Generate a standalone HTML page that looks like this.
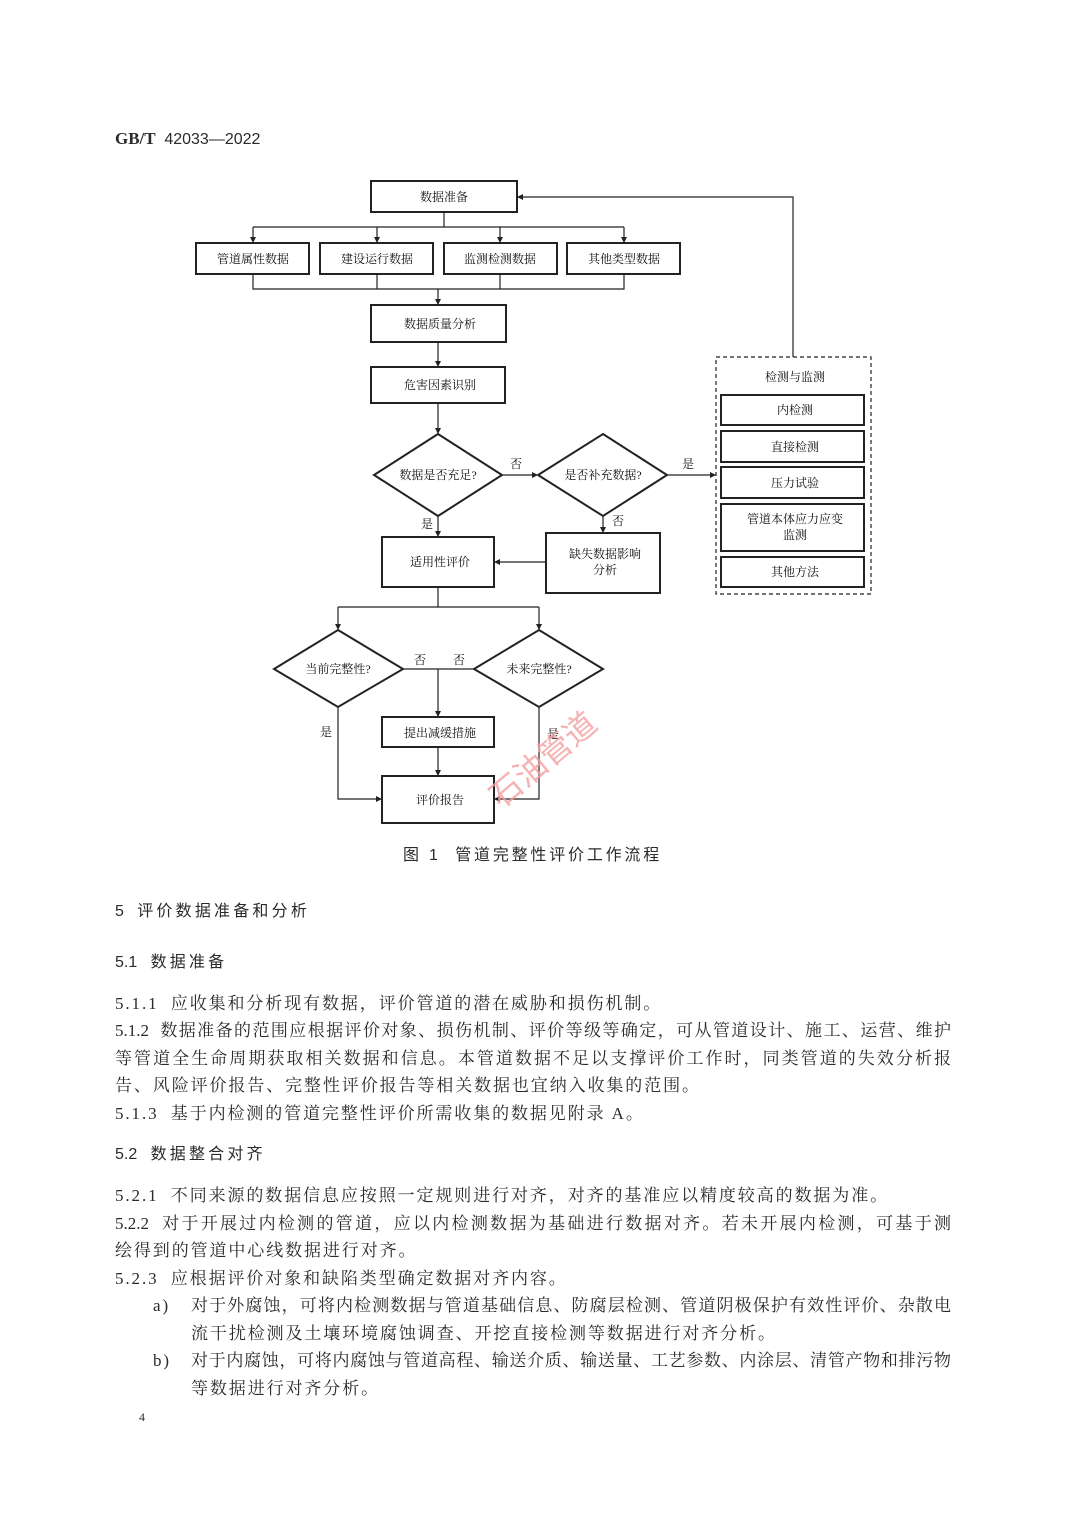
<!DOCTYPE html>
<html><head><meta charset="utf-8"><style>
body{margin:0;background:#fff;}
#p{position:relative;width:1080px;height:1525px;overflow:hidden;font-family:"Liberation Serif","Noto Serif CJK SC",serif;color:#2a2a2a;}
.t{position:absolute;font-size:17px;line-height:20px;white-space:nowrap;letter-spacing:1.9px;}
.j{position:absolute;left:115px;width:836px;font-size:17px;line-height:20px;text-align:justify;text-align-last:justify;white-space:nowrap;}
.h{position:absolute;font-family:"Liberation Sans","Noto Sans CJK SC",sans-serif;font-size:16px;line-height:20px;letter-spacing:3.2px;}
.h i{font-style:normal;letter-spacing:0;}
svg text{font-family:"Liberation Serif","Noto Serif CJK SC",serif;font-size:12px;fill:#111;}
</style></head><body><div id="p">
<div style="position:absolute;left:115px;top:129px;font-size:17px;line-height:20px"><b>GB/T</b>&nbsp;<span style="font-family:'Liberation Sans',sans-serif;font-size:16px"> 42033—2022</span></div>
<svg width="1080" height="840" style="position:absolute;left:0;top:0">
<defs><marker id="a" markerWidth="6" markerHeight="6" refX="5" refY="3" orient="auto" markerUnits="userSpaceOnUse"><path d="M0,0L6,3L0,6z" fill="#222"/></marker></defs>
<g fill="none" stroke="#222" stroke-width="1.2">
<rect x="371" y="181" width="146" height="31" stroke-width="2"/>
<rect x="196" y="243" width="113" height="31" stroke-width="2"/>
<rect x="320" y="243" width="113" height="31" stroke-width="2"/>
<rect x="444" y="243" width="113" height="31" stroke-width="2"/>
<rect x="567" y="243" width="113" height="31" stroke-width="2"/>
<rect x="371" y="305" width="135" height="37" stroke-width="2"/>
<rect x="371" y="367" width="134" height="36" stroke-width="2"/>
<path d="M438,434L502,475L438,516L374,475Z" stroke-width="2"/>
<path d="M603,434L667,475L603,516L538,475Z" stroke-width="2"/>
<rect x="382" y="537" width="112" height="50" stroke-width="2"/>
<rect x="546" y="533" width="114" height="60" stroke-width="2"/>
<rect x="716" y="357" width="155" height="237" stroke-dasharray="4,3"/>
<rect x="721" y="395" width="143" height="30" stroke-width="2"/>
<rect x="721" y="431" width="143" height="31" stroke-width="2"/>
<rect x="721" y="467" width="143" height="31" stroke-width="2"/>
<rect x="721" y="504" width="143" height="47" stroke-width="2"/>
<rect x="721" y="557" width="143" height="30" stroke-width="2"/>
<path d="M338,630L403,669L338,707L274,669Z" stroke-width="2"/>
<path d="M539,630L603,669L539,707L474,669Z" stroke-width="2"/>
<rect x="382" y="717" width="112" height="30" stroke-width="2"/>
<rect x="382" y="776" width="112" height="47" stroke-width="2"/>
<path d="M444,212V227M253,227H624"/>
<path d="M253,227V242" marker-end="url(#a)"/><path d="M377,227V242" marker-end="url(#a)"/><path d="M500,227V242" marker-end="url(#a)"/><path d="M624,227V242" marker-end="url(#a)"/>
<path d="M253,274V289H624V274M377,274V289M500,274V289"/>
<path d="M438,289V304" marker-end="url(#a)"/>
<path d="M438,342V366" marker-end="url(#a)"/>
<path d="M438,403V433" marker-end="url(#a)"/>
<path d="M502,475H537" marker-end="url(#a)"/>
<path d="M667,475H715" marker-end="url(#a)"/>
<path d="M793,357V197H518" marker-end="url(#a)"/>
<path d="M438,516V536" marker-end="url(#a)"/>
<path d="M603,516V532" marker-end="url(#a)"/>
<path d="M546,562H495" marker-end="url(#a)"/>
<path d="M438,587V607M338,607H539"/>
<path d="M338,607V629" marker-end="url(#a)"/><path d="M539,607V629" marker-end="url(#a)"/>
<path d="M403,669H474M438,669V716" marker-end="url(#a)"/>
<path d="M438,747V775" marker-end="url(#a)"/>
<path d="M338,707V799H381" marker-end="url(#a)"/>
<path d="M539,707V799H495" marker-end="url(#a)"/>
</g>
<g text-anchor="middle">
<text x="444" y="201">数据准备</text>
<text x="253" y="263">管道属性数据</text><text x="377" y="263">建设运行数据</text><text x="500" y="263">监测检测数据</text><text x="624" y="263">其他类型数据</text>
<text x="440" y="328">数据质量分析</text>
<text x="440" y="389">危害因素识别</text>
<text x="438" y="479">数据是否充足?</text>
<text x="603" y="479">是否补充数据?</text>
<text x="516" y="468">否</text><text x="688" y="468">是</text>
<text x="427" y="528">是</text><text x="618" y="525">否</text>
<text x="440" y="566">适用性评价</text>
<text x="605" y="558">缺失数据影响</text><text x="605" y="574">分析</text>
<text x="795" y="381">检测与监测</text>
<text x="795" y="414">内检测</text><text x="795" y="451">直接检测</text><text x="795" y="487">压力试验</text>
<text x="795" y="523">管道本体应力应变</text><text x="795" y="539">监测</text>
<text x="795" y="576">其他方法</text>
<text x="338" y="673">当前完整性?</text><text x="539" y="673">未来完整性?</text>
<text x="420" y="664">否</text><text x="459" y="664">否</text>
<text x="440" y="737">提出减缓措施</text>
<text x="440" y="804">评价报告</text>
<text x="326" y="736">是</text><text x="553" y="738">是</text>
</g>
<text x="545" y="770" text-anchor="middle" transform="rotate(-40 545 762)" style="font-size:32px;fill:#f4a0a0;font-family:'Noto Sans CJK SC',sans-serif;opacity:.8">石油管道</text>
</svg>
<div class="h" style="left:403px;top:846px;letter-spacing:2.8px">图 1&nbsp; 管道完整性评价工作流程</div>
<div class="h" style="left:115px;top:902px"><i>5&nbsp;&nbsp; </i>评价数据准备和分析</div>
<div class="h" style="left:115px;top:953px"><i>5.1&nbsp;&nbsp; </i>数据准备</div>
<div class="t" style="left:115px;top:994px">5.1.1&nbsp; 应收集和分析现有数据，评价管道的潜在威胁和损伤机制。</div>
<div class="j" style="top:1021px">5.1.2&nbsp; 数据准备的范围应根据评价对象、损伤机制、评价等级等确定，可从管道设计、施工、运营、维护</div>
<div class="j" style="top:1049px">等管道全生命周期获取相关数据和信息。本管道数据不足以支撑评价工作时，同类管道的失效分析报</div>
<div class="t" style="left:115px;top:1076px">告、风险评价报告、完整性评价报告等相关数据也宜纳入收集的范围。</div>
<div class="t" style="left:115px;top:1104px">5.1.3&nbsp; 基于内检测的管道完整性评价所需收集的数据见附录 A。</div>
<div class="h" style="left:115px;top:1145px"><i>5.2&nbsp;&nbsp; </i>数据整合对齐</div>
<div class="t" style="left:115px;top:1186px">5.2.1&nbsp; 不同来源的数据信息应按照一定规则进行对齐，对齐的基准应以精度较高的数据为准。</div>
<div class="j" style="top:1214px">5.2.2&nbsp; 对于开展过内检测的管道，应以内检测数据为基础进行数据对齐。若未开展内检测，可基于测</div>
<div class="t" style="left:115px;top:1241px">绘得到的管道中心线数据进行对齐。</div>
<div class="t" style="left:115px;top:1269px">5.2.3&nbsp; 应根据评价对象和缺陷类型确定数据对齐内容。</div>
<div class="t" style="left:153px;top:1296px">a)</div>
<div class="j" style="left:191px;width:760px;top:1296px">对于外腐蚀，可将内检测数据与管道基础信息、防腐层检测、管道阴极保护有效性评价、杂散电</div>
<div class="t" style="left:191px;top:1324px">流干扰检测及土壤环境腐蚀调查、开挖直接检测等数据进行对齐分析。</div>
<div class="t" style="left:153px;top:1351px">b)</div>
<div class="j" style="left:191px;width:760px;top:1351px">对于内腐蚀，可将内腐蚀与管道高程、输送介质、输送量、工艺参数、内涂层、清管产物和排污物</div>
<div class="t" style="left:191px;top:1379px">等数据进行对齐分析。</div>
<div class="t" style="left:139px;top:1407px;font-size:12px">4</div>
</div></body></html>
